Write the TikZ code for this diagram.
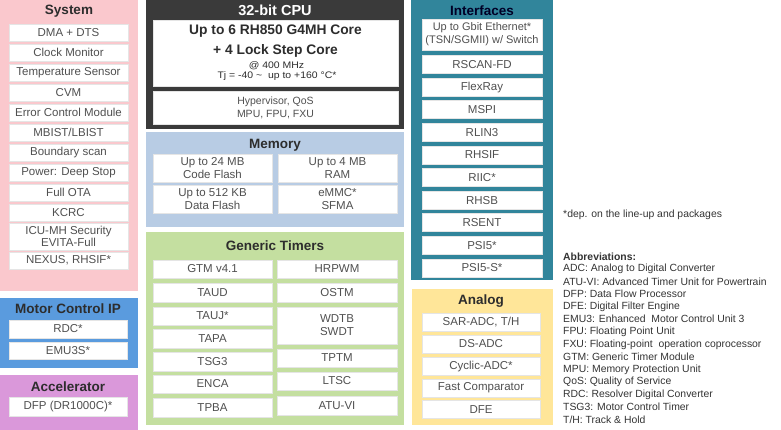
\documentclass[tikz,border=0pt]{standalone}
\usepackage{fontspec}
\setmainfont{Liberation Sans}
\usepackage{graphicx}
\definecolor{pinkc}{RGB}{250,200,205}
\definecolor{mcblue}{RGB}{90,155,222}
\definecolor{accel}{RGB}{218,152,218}
\definecolor{cpudark}{RGB}{58,58,58}
\definecolor{memblue}{RGB}{184,204,228}
\definecolor{timgreen}{RGB}{196,223,160}
\definecolor{ifteal}{RGB}{49,133,155}
\definecolor{anyellow}{RGB}{255,230,153}
\definecolor{txt}{RGB}{80,80,80}
\definecolor{ttlc}{RGB}{45,45,45}
\begin{document}
\begin{tikzpicture}[x=1pt,y=-1pt,
  panel/.style={anchor=north west, inner sep=0, outer sep=0, draw=none},
  item/.style={fill=white, draw=black!10, line width=0.4pt, inner sep=0, outer sep=0, align=center, text=txt, font=\fontsize{11.5}{13.5}\selectfont},
  ttl/.style={font=\bfseries\fontsize{13.5}{15}\selectfont, text=ttlc, inner sep=0},
  note/.style={anchor=west, inner sep=0, text=black!80, font=\fontsize{10.4}{12}\selectfont},
  sysitem/.style={item, minimum width=119, minimum height=17},
  mcitem/.style={item, minimum width=118, minimum height=18},
  memitem/.style={item, minimum width=119, minimum height=28},
  tlitem/.style={item, minimum width=119, minimum height=18.5},
  tritem/.style={item, minimum width=120, minimum height=18.5},
  ifitem/.style={item, minimum width=120, minimum height=18},
  anitem/.style={item, minimum width=118, minimum height=18}
]
\useasboundingbox (0,0) rectangle (781,430);

% ---------- System ----------
\node[panel, fill=pinkc, minimum width=138, minimum height=291] (sys) at (0,0) {};
\node[ttl] (systitle) at (69,11) {System};
\node[sysitem] (dma) at (68.5,32.5) {DMA + DTS};
\node[sysitem] (clk) at (68.5,52.5) {Clock Monitor};
\node[sysitem] (temp) at (68.5,72.5) {Temperature Sensor};
\node[sysitem] (cvm) at (68.5,92.5) {CVM};
\node[sysitem] (ecm) at (68.5,112.5) {Error Control Module};
\node[sysitem] (mbist) at (68.5,132.5) {MBIST/LBIST};
\node[sysitem] (bscan) at (68.5,152.5) {Boundary scan};
\node[sysitem] (pwr) at (68.5,172.5) {Power: Deep Stop};
\node[sysitem] (ota) at (68.5,192.5) {Full OTA};
\node[sysitem] (kcrc) at (68.5,212.5) {KCRC};
\node[sysitem, minimum height=27, font=\fontsize{11.5}{12.5}\selectfont] (icu) at (68.5,236.5) {ICU-MH Security\\EVITA-Full};
\node[sysitem] (nexus) at (68.5,260.5) {NEXUS, RHSIF*};

% ---------- Motor Control IP ----------
\node[panel, fill=mcblue, minimum width=138, minimum height=70] (mc) at (0,298) {};
\node[ttl] (mctitle) at (68,309) {Motor Control IP};
\node[mcitem] (rdc) at (68,329) {RDC*};
\node[mcitem, minimum height=17] (emu) at (68,350.5) {EMU3S*};

% ---------- Accelerator ----------
\node[panel, fill=accel, minimum width=138, minimum height=55] (acc) at (0,375) {};
\node[ttl] (acctitle) at (68,387) {Accelerator};
\node[mcitem, minimum height=19] (dfp) at (68,406.5) {DFP (DR1000C)*};

% ---------- CPU ----------
\node[panel, fill=cpudark, minimum width=258, minimum height=129] (cpu) at (146,0) {};
\node[ttl, text=white, font=\bfseries\fontsize{14.5}{16}\selectfont] (cputitle) at (275,10.5) {32-bit CPU};
\node[item, minimum width=245, minimum height=66] (core) at (275.5,53) {};
\node[inner sep=0, text=ttlc, font=\bfseries\fontsize{13.8}{15}\selectfont] (core1) at (275.5,31.5) {Up to 6 RH850 G4MH Core};
\node[inner sep=0, text=ttlc, font=\bfseries\fontsize{13.8}{15}\selectfont] (core2) at (275.5,50.5) {+ 4 Lock Step Core};
\node[inner sep=0, text=ttlc, font=\fontsize{9.5}{10}\selectfont] (core3) at (276.5,66) {\scalebox{1.1}[1]{@ 400 MHz}};
\node[inner sep=0, text=ttlc, font=\fontsize{9.5}{10}\selectfont] (core4) at (277,76.5) {\scalebox{1.1}[1]{Tj = -40 \textasciitilde\ \ up to +160 °C*}};
\node[item, minimum width=245, minimum height=33, font=\fontsize{10.5}{13}\selectfont] (hyp) at (275.5,107.5) {Hypervisor, QoS\\MPU, FPU, FXU};

% ---------- Memory ----------
\node[panel, fill=memblue, minimum width=258, minimum height=95] (mem) at (146,132) {};
\node[ttl] (memtitle) at (275,145) {Memory};
\node[memitem] (cflash) at (212.5,168) {Up to 24 MB\\Code Flash};
\node[memitem] (ram) at (337.5,168) {Up to 4 MB\\RAM};
\node[memitem] (dflash) at (212.5,199) {Up to 512 KB\\Data Flash};
\node[memitem, font=\fontsize{11.5}{12.5}\selectfont] (emmc) at (337.5,199) {eMMC*\\SFMA};

% ---------- Generic Timers ----------
\node[panel, fill=timgreen, minimum width=258, minimum height=193] (tim) at (146,232) {};
\node[ttl] (timtitle) at (275,246) {Generic Timers};
\node[tlitem] (gtm) at (212.5,269) {GTM v4.1};
\node[tlitem] (taud) at (212.5,292.5) {TAUD};
\node[tlitem] (tauj) at (212.5,316) {TAUJ*};
\node[tlitem] (tapa) at (212.5,338.5) {TAPA};
\node[tlitem] (tsg) at (212.5,361.5) {TSG3};
\node[tlitem] (enca) at (212.5,384) {ENCA};
\node[tlitem] (tpba) at (212.5,407.5) {TPBA};
\node[tritem] (hrpwm) at (337,269) {HRPWM};
\node[tritem] (ostm) at (337,292.5) {OSTM};
\node[tritem, minimum height=37, font=\fontsize{11.5}{13}\selectfont] (wdtb) at (337,325.5) {WDTB\\SWDT};
\node[tritem] (tptm) at (337,358) {TPTM};
\node[tritem] (ltsc) at (337,381) {LTSC};
\node[tritem] (atu) at (337,405.5) {ATU-VI};

% ---------- Interfaces ----------
\node[panel, fill=ifteal, minimum width=142, minimum height=280] (ifc) at (411,0) {};
\node[ttl, text=black!85!blue] (iftitle) at (482,11) {Interfaces};
\node[ifitem, minimum height=31, font=\fontsize{11}{13}\selectfont] (eth) at (482,34.5) {Up to Gbit Ethernet*\\(TSN/SGMII) w/ Switch};
\node[ifitem] (rscan) at (482,64.5) {RSCAN-FD};
\node[ifitem] (flex) at (482,87.1) {FlexRay};
\node[ifitem] (mspi) at (482,109.7) {MSPI};
\node[ifitem] (rlin) at (482,132.3) {RLIN3};
\node[ifitem] (rhsif) at (482,154.9) {RHSIF};
\node[ifitem] (riic) at (482,177.5) {RIIC*};
\node[ifitem] (rhsb) at (482,200.1) {RHSB};
\node[ifitem] (rsent) at (482,222.7) {RSENT};
\node[ifitem] (psi) at (482,245.3) {PSI5*};
\node[ifitem] (psis) at (482,267.9) {PSI5-S*};

% ---------- Analog ----------
\node[panel, fill=anyellow, minimum width=141, minimum height=136] (ana) at (412,289) {};
\node[ttl] (antitle) at (481,301) {Analog};
\node[anitem] (sar) at (481,322.5) {SAR-ADC, T/H};
\node[anitem] (ds) at (481,344) {DS-ADC};
\node[anitem] (cyc) at (481,366.5) {Cyclic-ADC*};
\node[anitem] (fc) at (481,388) {Fast Comparator};
\node[anitem] (dfe) at (481,409.5) {DFE};

% ---------- Notes ----------
\node[note] (dep) at (563,214.5) {*dep. on the line-up and packages};
\node[note, font=\bfseries\fontsize{10.4}{12}\selectfont] (abbr) at (563,256.5) {Abbreviations:};
\foreach \t [count=\i] in {ADC: Analog to Digital Converter,
  ATU-VI: Advanced Timer Unit for Powertrain,
  DFP: Data Flow Processor,
  DFE: Digital Filter Engine,
  EMU3: Enhanced \ Motor Control Unit 3,
  FPU: Floating Point Unit,
  FXU: Floating-point \ operation coprocessor,
  GTM: Generic Timer Module,
  MPU: Memory Protection Unit,
  QoS: Quality of Service,
  RDC: Resolver Digital Converter,
  TSG3: Motor Control Timer,
  T/H: Track \& Hold}
  \node[note] (ab\i) at (563,{256.5+12.55*\i}) {\t};
\end{tikzpicture}
\end{document}
